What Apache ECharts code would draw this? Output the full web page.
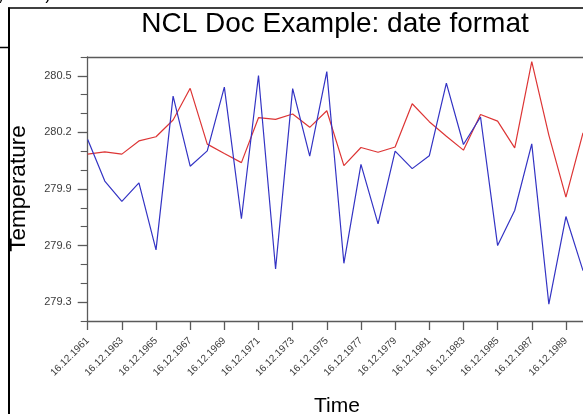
<!DOCTYPE html>
<html>
<head>
<meta charset="utf-8">
<script src="https://cdn.jsdelivr.net/npm/echarts@6/dist/echarts.min.js"></script>
<style>
  html, body { margin: 0; padding: 0; background: #fff; }
  #chart { width: 583px; height: 414px; }
</style>
</head>
<body>
<div id="chart"></div>
<script>
// Yearly samples, one per 16 December
const years = [1961, 1962, 1963, 1964, 1965, 1966, 1967, 1968, 1969, 1970,
               1971, 1972, 1973, 1974, 1975, 1976, 1977, 1978, 1979, 1980,
               1981, 1982, 1983, 1984, 1985, 1986, 1987, 1988, 1989, 1990];

// Temperature series (red and blue curves)
const redSeries = [280.085, 280.097, 280.085, 280.155, 280.177, 280.266, 280.434, 280.138, 280.088, 280.040,
                   280.278, 280.269, 280.298, 280.227, 280.315, 280.024, 280.120, 280.095, 280.123, 280.352,
                   280.257, 280.180, 280.106, 280.295, 280.260, 280.118, 280.576, 280.186, 279.857, 280.198];
const blueSeries = [280.163, 279.942, 279.834, 279.932, 279.577, 280.393, 280.021, 280.102, 280.440, 279.742,
                    280.502, 279.476, 280.432, 280.074, 280.523, 279.506, 280.031, 279.715, 280.101, 280.008,
                    280.076, 280.461, 280.136, 280.282, 279.600, 279.786, 280.139, 279.289, 279.754, 279.467];

// Y axis ticks
const yMajorTicks = [279.3, 279.6, 279.9, 280.2, 280.5];
const yMinorTicks = [279.2, 279.4, 279.5, 279.7, 279.8, 280.0, 280.1, 280.3, 280.4, 280.6];
const yMin = 279.2, yMax = 280.6;

const dateLabels = years.map(y => '16.12.' + y);

const axisColor = '#5a5a5a';
const labelColor = '#3c3c3c';
const font = '"Liberation Sans", Arial, Helvetica, sans-serif';

const chart = echarts.init(document.getElementById('chart'), null, { renderer: 'canvas' });

chart.setOption({
  animation: false,
  backgroundColor: '#fff',
  grid: { left: 87.7, top: 57, width: 496.8, height: 264, containLabel: false },
  xAxis: [
    {
      type: 'category',
      data: dateLabels,
      boundaryGap: false,
      position: 'bottom',
      axisLine: { show: true, lineStyle: { color: axisColor, width: 1.3 } },
      axisTick: { show: true, interval: 1, length: 9, lineStyle: { color: axisColor, width: 1.3 } },
      axisLabel: {
        show: true, interval: 1, rotate: 45, margin: 18,
        fontSize: 10, color: labelColor, fontFamily: font
      },
      splitLine: { show: false }
    },
    {
      type: 'category',
      data: dateLabels,
      boundaryGap: false,
      position: 'top',
      axisLine: { show: true, lineStyle: { color: axisColor, width: 1.3 } },
      axisTick: { show: false },
      axisLabel: { show: false },
      splitLine: { show: false }
    }
  ],
  yAxis: [
    {
      type: 'value',
      min: yMin, max: yMax,
      position: 'left',
      axisLine: { show: true, lineStyle: { color: axisColor, width: 1.3 } },
      axisTick: { show: true, length: 10, customValues: yMajorTicks, lineStyle: { color: axisColor, width: 1.3 } },
      axisLabel: {
        show: true, customValues: yMajorTicks, margin: 16,
        fontSize: 11, color: labelColor, fontFamily: font,
        formatter: v => v.toFixed(1)
      },
      splitLine: { show: false }
    },
    {
      type: 'value',
      min: yMin, max: yMax,
      position: 'left',
      axisLine: { show: false },
      axisTick: { show: true, length: 7, customValues: yMinorTicks, lineStyle: { color: axisColor, width: 1.1 } },
      axisLabel: { show: false },
      splitLine: { show: false }
    }
  ],
  series: [
    {
      name: 'red', type: 'line', data: redSeries,
      xAxisIndex: 0, yAxisIndex: 0,
      symbol: 'none', lineStyle: { color: '#dd3535', width: 1.2 }
    },
    {
      name: 'blue', type: 'line', data: blueSeries,
      xAxisIndex: 0, yAxisIndex: 0,
      symbol: 'none', lineStyle: { color: '#3333c4', width: 1.2 }
    }
  ],
  graphic: [
    // surrounding page frame
    { type: 'line', shape: { x1: 9, y1: 7.5, x2: 9, y2: 414 }, style: { stroke: '#000', lineWidth: 2 } },
    { type: 'line', shape: { x1: 8, y1: 8, x2: 583, y2: 8 }, style: { stroke: '#000', lineWidth: 1.5 } },
    { type: 'line', shape: { x1: 0, y1: 47.5, x2: 9, y2: 47.5 }, style: { stroke: '#000', lineWidth: 1.5 } },
    { type: 'text', left: -2, top: -11, style: { text: ', 185)', font: '15px "Liberation Mono", monospace', fill: '#000' } },
    // title
    { type: 'text', x: 335, y: 24, style: { text: 'NCL Doc Example: date format', font: '28px ' + font, fill: '#000', align: 'center', verticalAlign: 'middle' } },
    // axis titles
    { type: 'text', x: 19, y: 188.5, rotation: Math.PI / 2, style: { text: 'Temperature', font: '22.5px ' + font, fill: '#000', align: 'center', verticalAlign: 'middle' } },
    { type: 'text', x: 337, y: 406, style: { text: 'Time', font: '21px ' + font, fill: '#000', align: 'center', verticalAlign: 'middle' } }
  ]
});
</script>
</body>
</html>
